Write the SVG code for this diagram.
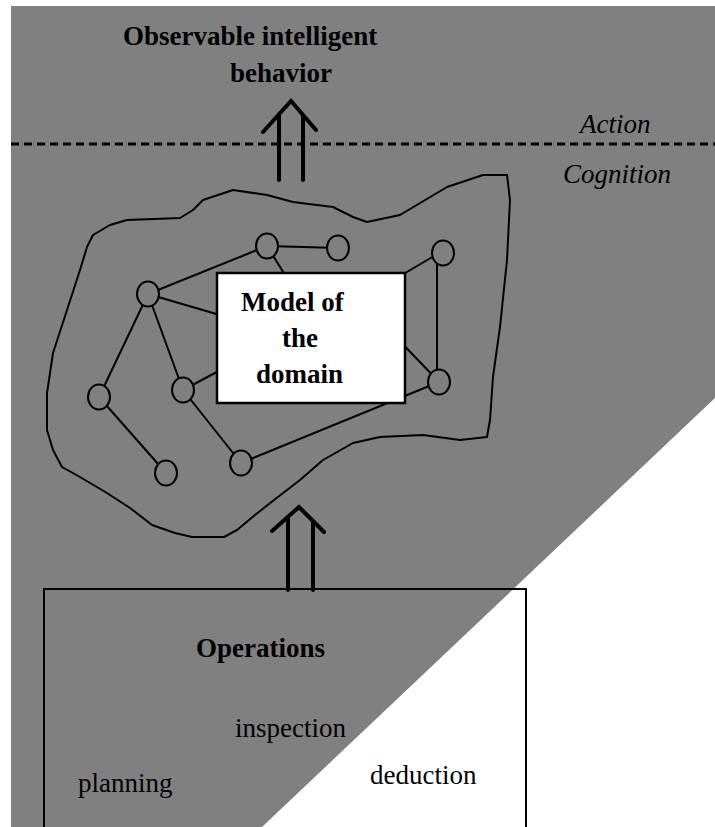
<svg xmlns="http://www.w3.org/2000/svg" width="715" height="827" viewBox="0 0 715 827">
<style>
.t{font-family:"Liberation Serif","Times New Roman",serif;font-size:27px;fill:#000}
.b{font-weight:bold}
.i{font-style:italic}
.ln{stroke:#000;stroke-width:2;fill:none;stroke-linecap:round}
.nd{fill:#808080;stroke:#000;stroke-width:2}
.ar{stroke:#000;stroke-width:4;fill:none;stroke-linecap:round;stroke-linejoin:miter}
</style>
<rect width="715" height="827" fill="#fff"/>
<g id="background">
<polygon points="11,6 715,6 715,398 262,827 11,827" fill="#808080"/>
<line x1="11" y1="144" x2="715" y2="144" stroke="#000" stroke-width="3" stroke-dasharray="8,5"/>
</g>
<g id="labels">
<text class="t b" x="123" y="45">Observable intelligent</text>
<text class="t b" x="230" y="82">behavior</text>
<text class="t i" x="580" y="133">Action</text>
<text class="t i" x="563" y="183">Cognition</text>
</g>
<g id="domain-blob">
<path class="ln" stroke-linejoin="round" d="M47,430 L53,450 L62,467 L80,477 L107,493 L130,508 L152,525 L175,533 L192,537 L224,537 L237,530 L255,515 L274,500 L300,480 L323,460 L353,443 L380,437 L423,435 L460,440 L487,437 L490,420 L493,377 L500,327 L507,260 L510,200 L507,175 L483,175 L447,187 L400,215 L367,222 L353,217 L333,207 L293,202 L267,195 L233,190 L203,200 L193,210 L180,218 L127,220 L110,225 L93,235 L87,247 L80,270 L67,310 L53,353 L47,393 L47,420 Z"/>
</g>
<g id="connectors">
<line class="ln" x1="267" y1="246" x2="338" y2="248"/>
<line class="ln" x1="267" y1="246" x2="148" y2="294"/>
<line class="ln" x1="267" y1="246" x2="290" y2="283"/>
<line class="ln" x1="148" y1="294" x2="230" y2="318"/>
<line class="ln" x1="148" y1="294" x2="99" y2="397"/>
<line class="ln" x1="148" y1="294" x2="183" y2="390"/>
<line class="ln" x1="183" y1="390" x2="230" y2="365"/>
<line class="ln" x1="99" y1="397" x2="166" y2="473"/>
<line class="ln" x1="183" y1="390" x2="241" y2="463"/>
<line class="ln" x1="241" y1="463" x2="439" y2="382"/>
<line class="ln" x1="434" y1="256" x2="390" y2="282"/>
<line class="ln" x1="437" y1="253" x2="437" y2="382"/>
<line class="ln" x1="439" y1="382" x2="395" y2="336"/>
</g>
<g id="nodes">
<ellipse id="n1" class="nd" cx="267" cy="246" rx="11" ry="12.5"/>
<ellipse id="n2" class="nd" cx="338" cy="248" rx="11" ry="12.5"/>
<ellipse id="n3" class="nd" cx="443" cy="253" rx="11" ry="12.5"/>
<ellipse id="n4" class="nd" cx="148" cy="294" rx="11" ry="12.5"/>
<ellipse id="n5" class="nd" cx="99" cy="397" rx="11" ry="12.5"/>
<ellipse id="n6" class="nd" cx="183" cy="390" rx="11" ry="12.5"/>
<ellipse id="n7" class="nd" cx="439" cy="382" rx="11" ry="12.5"/>
<ellipse id="n8" class="nd" cx="166" cy="473" rx="11" ry="12.5"/>
<ellipse id="n9" class="nd" cx="241" cy="463" rx="11" ry="12.5"/>
</g>
<g id="model-box">
<rect x="217" y="273" width="188" height="130" fill="#fff" stroke="#000" stroke-width="2.5"/>
<text class="t b" x="241" y="311">Model of</text>
<text class="t b" x="282" y="347">the</text>
<text class="t b" x="256" y="383">domain</text>
</g>
<g id="arrows">
<path class="ar" d="M279,180 V114 M303,180 V115 M263,132 L291,101 L316,130"/>
<path class="ar" d="M288,590 V517 M313,590 V521 M272,531 L299,507 L324,532"/>
</g>
<g id="operations-box">
<path d="M44,830 V589 H526 V830" fill="none" stroke="#000" stroke-width="2"/>
<text class="t b" x="196" y="657">Operations</text>
<text class="t" x="235" y="737">inspection</text>
<text class="t" x="370" y="784">deduction</text>
<text class="t" x="78" y="792">planning</text>
</g>
</svg>
